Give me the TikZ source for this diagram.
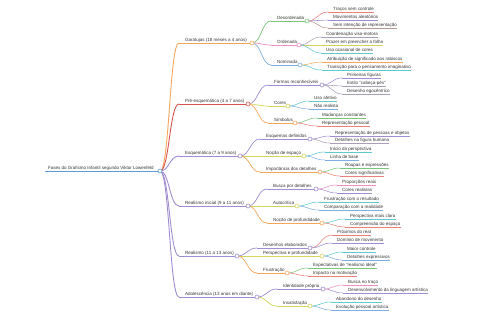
\documentclass[tikz,border=0pt]{standalone}
\usepackage{fontspec}
\setmainfont{Liberation Sans}
\usetikzlibrary{calc}
\definecolor{cBlue}{HTML}{5B9BD5}
\definecolor{cOrange}{HTML}{F5A65B}
\definecolor{cRed}{HTML}{D9534F}
\definecolor{cRedL}{HTML}{E8807C}
\definecolor{cPurple}{HTML}{A08CD0}
\definecolor{cGreen}{HTML}{7CC47C}
\definecolor{cPink}{HTML}{EE8FC0}
\definecolor{cLBlue}{HTML}{7FAEE0}
\definecolor{cOlive}{HTML}{D4D45A}
\definecolor{cTeal}{HTML}{5FC8D0}
\definecolor{cGray}{HTML}{A9A0B8}
\definecolor{cBrown}{HTML}{B49A90}
\definecolor{cText}{HTML}{333333}
\pgfdeclarelayer{bg}
\pgfsetlayers{bg,main}
\tikzset{
  lbl/.style={inner sep=0pt,text=cText,font=\fontsize{4.5}{5}\selectfont},
  dot/.style={circle,inner sep=0pt,minimum size=4pt,fill=white,line width=0.6pt},
  wA/.style={line width=0.9pt},
  wB/.style={line width=0.7pt},
  wC/.style={line width=0.55pt}
}
% internal node: name, text x, underline y, circle x, colour, width, text
\newcommand\mmin[7]{%
  \node[lbl,anchor=base west] (#1) at (#2,#3-1.7) {#7};
  \coordinate (#1l) at (#2-6,#3);
  \coordinate (#1r) at (#4,#3);
  \draw[draw=#5,#6] (#1l) -- (#1r);
  \node[dot,draw=#5] (#1c) at (#1r) {};
}
% leaf node: name, text x, underline y, style, text
\newcommand\mmleaf[5]{%
  \node[lbl,anchor=base west] (#1) at (#2,#3-1.7) {#5};
  \coordinate (#1l) at (#2-5,#3);
  \draw[#4] (#1l) -- (#1l -| #1.east);
}
% link: parent, child, style
\newcommand\mmlink[3]{%
  \begin{pgfonlayer}{bg}
  \draw[#3] let \p1=(#1r), \p2=(#2l) in (\p1) .. controls ({0.5*\x1+0.5*\x2},\y1) and ({0.5*\x1+0.5*\x2},\y2) .. (\p2);
  \end{pgfonlayer}
}
\begin{document}
\begin{tikzpicture}[x=1pt,y=-1pt]
\useasboundingbox (0,0) rectangle (480,320);
% root
\node[lbl,anchor=base west] (root) at (48,169.3) {Fases do Grafismo Infantil segundo Viktor Lowenfeld};
\coordinate (rootl) at (45,171);
\coordinate (rootr) at (160,171);
\draw[cBlue,wA] (rootl) -- (rootr);
\node[dot,draw=cBlue] (rootc) at (rootr) {};
% level 1
\mmin{G}{185}{43}{252}{cOrange}{wA}{Garatujas (18 meses a 4 anos)}
\mmin{P}{185}{104}{248}{cRed}{wA}{Pré-esquemática (4 a 7 anos)}
\mmin{E}{185}{156}{240}{cPurple}{wA}{Esquemática (7 a 9 anos)}
\mmin{RI}{185}{206}{248}{cPurple}{wA}{Realismo inicial (9 a 11 anos)}
\mmin{R}{185}{256}{237}{cPurple}{wA}{Realismo (11 a 13 anos)}
\mmin{A}{185}{297}{257}{cPurple}{wA}{Adolescência (13 anos em diante)}
\mmlink{root}{G}{cOrange,wA}
\mmlink{root}{P}{cRed,wA}
\mmlink{root}{E}{cPurple,wA}
\mmlink{root}{RI}{cPurple,wA}
\mmlink{root}{R}{cPurple,wA}
\mmlink{root}{A}{cPurple,wA}
% level 2
\mmin{Gd}{277}{21}{307}{cGreen}{wB}{Desordenada}
\mmin{Go}{277}{45}{299}{cPink}{wB}{Ordenada}
\mmin{Gn}{277}{65}{300}{cLBlue}{wB}{Nominada}
\mmin{Pf}{274}{85}{322}{cPurple}{wB}{Formas reconhecíveis}
\mmin{Pc}{274}{106}{288}{cOlive}{wB}{Cores}
\mmin{Ps}{274}{123}{295}{cOrange}{wB}{Símbolos}
\mmin{Ee}{266}{139}{310}{cPurple}{wB}{Esquemas definidos}
\mmin{En}{266}{156}{304}{cOlive}{wB}{Noção de espaço}
\mmin{Ei}{266}{172}{320}{cOrange}{wB}{Importância dos detalhes}
\mmin{Rb}{273}{189}{316}{cPurple}{wB}{Busca por detalhes}
\mmin{Ra}{273}{206}{297}{cOlive}{wB}{Autocrítica}
\mmin{Rn}{273}{223}{322}{cOrange}{wB}{Noção de profundidade}
\mmin{Rd}{263}{248}{310}{cPurple}{wB}{Desenhos elaborados}
\mmin{Rp}{263}{256}{322}{cOlive}{wB}{Perspectiva e profundidade}
\mmin{Rf}{263}{273}{287}{cOrange}{wB}{Frustração}
\mmin{Ai}{283}{289}{323}{cPurple}{wB}{Identidade própria}
\mmin{As}{283}{306}{310}{cOlive}{wB}{Insatisfação}
\mmlink{G}{Gd}{cGreen,wB}
\mmlink{G}{Go}{cPink,wB}
\mmlink{G}{Gn}{cLBlue,wB}
\mmlink{P}{Pf}{cPurple,wB}
\mmlink{P}{Pc}{cOlive,wB}
\mmlink{P}{Ps}{cOrange,wB}
\mmlink{E}{Ee}{cPurple,wB}
\mmlink{E}{En}{cOlive,wB}
\mmlink{E}{Ei}{cOrange,wB}
\mmlink{RI}{Rb}{cPurple,wB}
\mmlink{RI}{Ra}{cOlive,wB}
\mmlink{RI}{Rn}{cOrange,wB}
\mmlink{R}{Rd}{cPurple,wB}
\mmlink{R}{Rp}{cOlive,wB}
\mmlink{R}{Rf}{cOrange,wB}
\mmlink{A}{Ai}{cPurple,wB}
\mmlink{A}{As}{cOlive,wB}
% level 3
\mmleaf{Gd1}{333}{12}{cRedL,wC}{Traços sem controle}
\mmleaf{Gd2}{333}{20}{cPurple,wC}{Movimentos aleatórios}
\mmleaf{Gd3}{333}{28}{cBrown,wC}{Sem intenção de representação}
\mmleaf{Go1}{326}{37}{cGray,wC}{Coordenação viso-motora}
\mmleaf{Go2}{326}{45}{cOlive,wC}{Prazer em preencher a folha}
\mmleaf{Go3}{326}{53}{cTeal,wC}{Uso ocasional de cores}
\mmleaf{Gn1}{327}{62}{cOrange,wC}{Atribuição de significado aos rabiscos}
\mmleaf{Gn2}{327}{70}{cTeal,wC}{Transição para o pensamento imaginativo}
\mmleaf{Pf1}{347}{78}{cPurple,wC}{Primeiras figuras}
\mmleaf{Pf2}{347}{86}{cGray,wC}{Estilo "cabeça-pés"}
\mmleaf{Pf3}{347}{94}{cGray,wC}{Desenho egocêntrico}
\mmleaf{Pc1}{314}{101}{cTeal,wC}{Uso afetivo}
\mmleaf{Pc2}{314}{109}{cLBlue,wC}{Não realista}
\mmleaf{Ps1}{322}{118}{cGreen,wC}{Mudanças constantes}
\mmleaf{Ps2}{322}{126}{cRedL,wC}{Representação pessoal}
\mmleaf{Ee1}{335}{136}{cPurple,wC}{Representação de pessoas e objetos}
\mmleaf{Ee2}{335}{143}{cGray,wC}{Detalhes na figura humana}
\mmleaf{En1}{330}{152}{cTeal,wC}{Início da perspectiva}
\mmleaf{En2}{330}{160}{cLBlue,wC}{Linha de base}
\mmleaf{Ei1}{345}{168}{cGreen,wC}{Roupas e expressões}
\mmleaf{Ei2}{345}{176}{cRedL,wC}{Cores significativas}
\mmleaf{Rb1}{342}{185}{cPink,wC}{Proporções reais}
\mmleaf{Rb2}{342}{193}{cPurple,wC}{Cores realistas}
\mmleaf{Ra1}{324}{202}{cTeal,wC}{Frustração com o resultado}
\mmleaf{Ra2}{324}{210}{cLBlue,wC}{Comparação com a realidade}
\mmleaf{Rn1}{350}{219}{cTeal,wC}{Perspectiva mais clara}
\mmleaf{Rn2}{350}{227}{cRedL,wC}{Compreensão do espaço}
\mmleaf{Rd1}{337}{235}{cRedL,wC}{Próximos do real}
\mmleaf{Rd2}{337}{243}{cPurple,wC}{Domínio de movimento}
\mmleaf{Rp1}{347}{252}{cTeal,wC}{Maior controle}
\mmleaf{Rp2}{347}{260}{cLBlue,wC}{Detalhes expressivos}
\mmleaf{Rf1}{313}{268}{cGreen,wC}{Expectativas de "realismo ideal"}
\mmleaf{Rf2}{313}{276}{cRedL,wC}{Impacto na motivação}
\mmleaf{Ai1}{348}{285}{cPink,wC}{Busca no traço}
\mmleaf{Ai2}{348}{293}{cPurple,wC}{Desenvolvimento da linguagem artística}
\mmleaf{As1}{336}{302}{cTeal,wC}{Abandono do desenho}
\mmleaf{As2}{336}{310}{cLBlue,wC}{Evolução pessoal artística}
\mmlink{Gd}{Gd1}{cRedL,wC}
\mmlink{Gd}{Gd2}{cPurple,wC}
\mmlink{Gd}{Gd3}{cBrown,wC}
\mmlink{Go}{Go1}{cGray,wC}
\mmlink{Go}{Go2}{cOlive,wC}
\mmlink{Go}{Go3}{cTeal,wC}
\mmlink{Gn}{Gn1}{cOrange,wC}
\mmlink{Gn}{Gn2}{cTeal,wC}
\mmlink{Pf}{Pf1}{cPurple,wC}
\mmlink{Pf}{Pf2}{cGray,wC}
\mmlink{Pf}{Pf3}{cGray,wC}
\mmlink{Pc}{Pc1}{cTeal,wC}
\mmlink{Pc}{Pc2}{cLBlue,wC}
\mmlink{Ps}{Ps1}{cGreen,wC}
\mmlink{Ps}{Ps2}{cRedL,wC}
\mmlink{Ee}{Ee1}{cPurple,wC}
\mmlink{Ee}{Ee2}{cGray,wC}
\mmlink{En}{En1}{cTeal,wC}
\mmlink{En}{En2}{cLBlue,wC}
\mmlink{Ei}{Ei1}{cGreen,wC}
\mmlink{Ei}{Ei2}{cRedL,wC}
\mmlink{Rb}{Rb1}{cPink,wC}
\mmlink{Rb}{Rb2}{cPurple,wC}
\mmlink{Ra}{Ra1}{cTeal,wC}
\mmlink{Ra}{Ra2}{cLBlue,wC}
\mmlink{Rn}{Rn1}{cTeal,wC}
\mmlink{Rn}{Rn2}{cRedL,wC}
\mmlink{Rd}{Rd1}{cRedL,wC}
\mmlink{Rd}{Rd2}{cPurple,wC}
\mmlink{Rp}{Rp1}{cTeal,wC}
\mmlink{Rp}{Rp2}{cLBlue,wC}
\mmlink{Rf}{Rf1}{cGreen,wC}
\mmlink{Rf}{Rf2}{cRedL,wC}
\mmlink{Ai}{Ai1}{cPink,wC}
\mmlink{Ai}{Ai2}{cPurple,wC}
\mmlink{As}{As1}{cTeal,wC}
\mmlink{As}{As2}{cLBlue,wC}
\end{tikzpicture}
\end{document}
